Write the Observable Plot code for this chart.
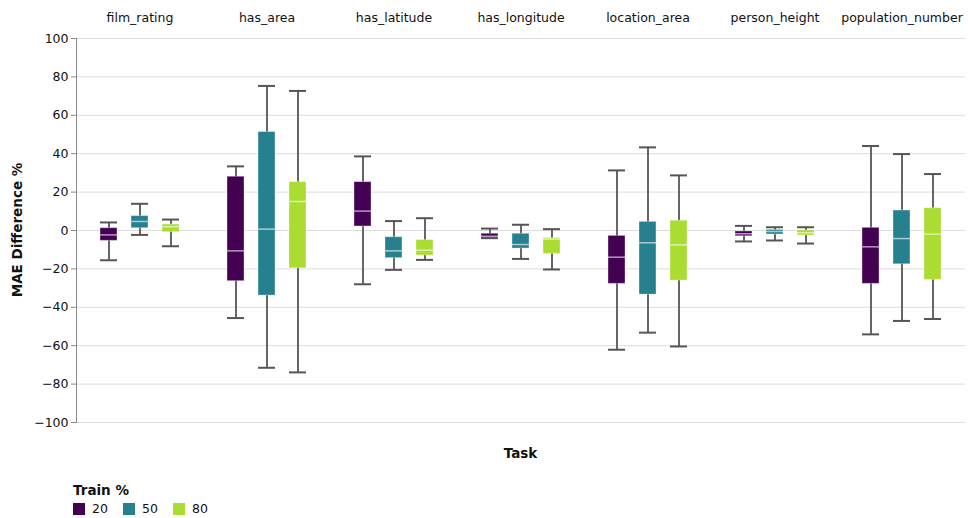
<!DOCTYPE html>
<html>
<head>
<meta charset="utf-8">
<script src="https://cdn.jsdelivr.net/npm/d3@7"></script>
<script src="https://cdn.jsdelivr.net/npm/@observablehq/plot@0.6"></script>
<style>
  html, body { margin: 0; padding: 0; background: #fff; font-family: "DejaVu Sans", sans-serif; }
  #wrap { position: relative; width: 968px; height: 518px; overflow: hidden; }
  #chart svg { display: block; }
  #ytitle { position: absolute; left: 17px; top: 230px; transform: translate(-50%, -50%) rotate(-90deg);
            font-weight: bold; font-size: 13.5px; white-space: nowrap; color: #111; }
  #xtitle { width: 968px; padding-left: 73px; box-sizing: border-box; text-align: center;
            margin-top: 13px; font-weight: bold; font-size: 13.5px; line-height: 16px; color: #111; }
  #legend { margin-left: 73px; margin-top: 21px; font-size: 12.5px; color: #111; }
  #legend .t { font-weight: bold; font-size: 13.5px; line-height: 16px; margin-bottom: 4px; }
  #legend .row { display: flex; align-items: center; line-height: 14px; }
  #legend .item { display: flex; align-items: center; width: 50px; }
  #legend .sw { width: 12px; height: 12px; margin-right: 7px; display: inline-block; }
</style>
</head>
<body>
<div id="wrap">
  <div id="chart"></div>
  <div id="xtitle">Task</div>
  <div id="legend"></div>
  <div id="ytitle">MAE Difference %</div>
</div>
<script>
const tasks = ["film_rating", "has_area", "has_latitude", "has_longitude", "location_area", "person_height", "population_number"];
const trainPcts = ["20", "50", "80"];
const colors = ["#440154", "#26808e", "#aadc32"];
const yTicks = [-100, -80, -60, -40, -20, 0, 20, 40, 60, 80, 100];

// per task, order: train 20, 50, 80
const minVals = [
  -15.5, -2.3, -8.2,     // film_rating
  -45.6, -71.5, -73.9,   // has_area
  -28.0, -20.5, -15.3,   // has_latitude
  -4.0, -14.8, -20.3,    // has_longitude
  -62.1, -53.2, -60.4,   // location_area
  -5.7, -5.2, -6.8,      // person_height
  -54.1, -47.1, -46.1    // population_number
];
const q1Vals = [
  -5.4, 1.2, -0.9,
  -26.4, -33.9, -19.7,
  2.1, -14.4, -13.0,
  -4.0, -9.4, -12.2,
  -27.8, -33.4, -26.1,
  -3.0, -2.1, -2.6,
  -27.8, -17.6, -25.7
];
const medVals = [
  -2.3, 4.7, 2.0,
  -10.6, 0.7, 15.1,
  10.1, -10.6, -10.3,
  -3.0, -7.3, -4.5,
  -13.9, -6.4, -7.5,
  -1.7, -0.5, -1.2,
  -8.5, -4.2, -1.9
];
const q3Vals = [
  1.2, 7.5, 3.1,
  28.0, 51.3, 25.2,
  25.2, -3.5, -5.0,
  -1.7, -1.7, -4.0,
  -2.8, 4.5, 5.1,
  -0.5, 0.3, 0.0,
  1.4, 10.4, 11.6
];
const maxVals = [
  4.2, 13.9, 5.7,
  33.4, 75.3, 72.7,
  38.6, 4.9, 6.4,
  1.0, 3.0, 0.7,
  31.3, 43.3, 28.7,
  2.4, 1.7, 1.7,
  44.0, 39.8, 29.4
];

const rows = [];
tasks.forEach((task, i) => trainPcts.forEach((train, j) => {
  const k = i * 3 + j;
  rows.push({task, train, min: minVals[k], q1: q1Vals[k], med: medVals[k], q3: q3Vals[k], max: maxVals[k]});
}));

const plot = Plot.plot({
  width: 968,
  height: 432,
  marginLeft: 73,
  marginRight: 0,
  marginTop: 38,
  marginBottom: 10,
  style: {fontFamily: "DejaVu Sans, sans-serif", fontSize: "12.5px", color: "#111"},
  fx: {domain: tasks, padding: 0},
  x: {domain: trainPcts, paddingInner: 0.4375, paddingOuter: 0.71875, axis: null},
  y: {domain: [-100, 100]},
  color: {domain: trainPcts, range: colors},
  marks: [
    Plot.gridY(yTicks, {stroke: "#dcdcdc", strokeOpacity: 1, strokeWidth: 1}),
    Plot.axisY(yTicks, {tickSize: 5, tickPadding: 3, stroke: "#888", label: null, fontSize: 12.5}),
    Plot.axisFx({anchor: "top", tickSize: 0, tickPadding: 17, label: null, fontSize: 12.5}),
    Plot.frame({anchor: "left", facetAnchor: "left", stroke: "#888"}),
    Plot.ruleX(rows, {fx: "task", x: "train", y1: "min", y2: "max", stroke: "#666", strokeWidth: 2}),
    Plot.barY(rows, {fx: "task", x: "train", y1: "q1", y2: "q3", fill: "train", stroke: "white", strokeOpacity: 0.35, strokeWidth: 1}),
    Plot.tickY(rows, {fx: "task", x: "train", y: "med", stroke: "white", strokeOpacity: 0.6, strokeWidth: 1.5}),
    Plot.tickY(rows, {fx: "task", x: "train", y: "min", stroke: "#555", strokeWidth: 2}),
    Plot.tickY(rows, {fx: "task", x: "train", y: "max", stroke: "#555", strokeWidth: 2})
  ]
});
document.getElementById("chart").appendChild(plot);

const lg = document.getElementById("legend");
lg.innerHTML = '<div class="t">Train %</div><div class="row">' +
  trainPcts.map((t, i) => `<span class="item"><span class="sw" style="background:${colors[i]}"></span><span>${t}</span></span>`).join("") +
  '</div>';
</script>
</body>
</html>
